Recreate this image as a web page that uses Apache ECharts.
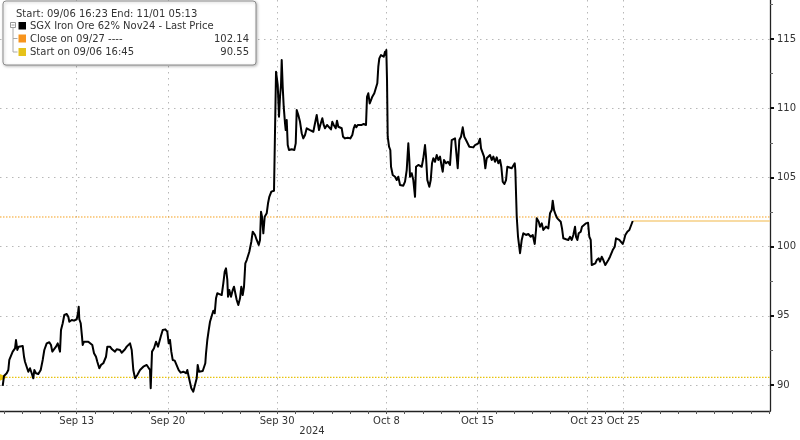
<!DOCTYPE html>
<html>
<head>
<meta charset="utf-8">
<script src="https://cdn.jsdelivr.net/npm/echarts@6/dist/echarts.min.js"></script>
<style>html,body{margin:0;padding:0;background:#fff}#c{width:800px;height:440px}</style>
</head>
<body>
<div id="c"></div>
<script>
// ---- data (time in trading days from 06 Sep 2024 open, price in USD/t) ----
const tradingDays = [
0.939,1.010,1.158,1.246,1.301,1.394,1.487,1.614,1.668,1.740,
1.817,1.926,2.036,2.108,2.162,2.256,2.344,2.437,2.530,2.618,
2.673,2.766,2.892,3.024,3.134,3.222,3.353,3.496,3.589,3.661,
3.754,3.864,3.957,4.045,4.083,4.138,4.232,4.319,4.451,4.539,
4.594,4.726,4.852,5.000,5.071,5.110,5.143,5.220,5.291,5.329,
5.401,5.510,5.637,5.730,5.856,5.950,6.059,6.131,6.240,6.334,
6.460,6.608,6.680,6.828,6.937,7.009,7.102,7.195,7.283,7.377,
7.470,7.558,7.651,7.744,7.832,7.925,8.019,8.107,8.200,
8.326,8.474,8.568,8.655,8.749,8.842,8.930,9.023,9.061,9.133,
9.243,9.352,9.462,9.534,9.610,9.720,9.863,9.973,10.049,10.121,
10.192,10.269,10.379,10.488,10.598,10.708,10.851,10.999,11.070,11.147,
11.218,11.290,11.400,11.509,11.586,11.641,11.712,11.806,11.916,11.987,
12.058,12.097,12.168,12.245,12.316,12.426,12.497,12.574,12.645,12.717,
12.827,12.958,13.046,13.123,13.194,13.266,13.304,13.375,13.469,13.562,
13.633,13.705,13.782,13.869,13.963,14.034,14.111,14.182,14.254,14.331,
14.402,14.473,14.583,14.660,14.786,14.879,14.989,15.060,15.115,15.170,
15.242,15.318,15.428,15.500,15.571,15.681,15.829,15.900,
15.939,16.032,16.103,16.158,16.213,16.251,16.306,16.361,16.433,16.471,
16.526,16.581,16.652,16.800,16.943,17.020,17.075,17.162,17.256,17.349,
17.437,17.530,17.624,17.711,17.805,17.898,17.986,18.079,18.172,18.227,
18.299,18.370,18.480,18.556,18.628,18.738,18.847,18.957,19.029,19.105,
19.215,19.286,19.358,19.452,19.545,19.616,19.726,19.874,20.017,20.126,
20.203,20.274,20.346,20.423,20.532,20.642,20.752,20.878,20.933,21.004,
21.081,21.153,21.224,21.334,21.427,21.498,21.553,21.608,21.702,21.773,
21.850,21.921,21.960,21.992,22.031,22.069,22.141,22.212,22.251,22.344,
22.470,22.563,22.651,22.745,22.838,22.925,23.019,23.112,23.200,23.255,
23.293,23.386,23.474,23.568,23.623,23.749,23.935,24.023,24.116,24.171,
24.243,24.352,24.430,24.501,24.572,24.665,24.759,24.846,24.940,25.033,
25.088,25.159,25.269,25.379,25.488,25.582,25.669,25.763,25.856,25.911,
25.999,26.092,26.186,26.273,26.367,26.460,26.548,26.641,26.767,26.861,
26.954,27.042,27.135,27.190,27.283,27.355,27.426,27.503,27.591,27.684,
27.777,27.865,27.958,28.052,28.140,28.233,28.304,28.381,28.469,28.562,
28.634,28.743,28.875,28.963,29.040,29.073,
29.150,29.221,29.331,29.424,29.512,29.660,29.786,29.918,30.028,30.137,
30.209,30.247,30.357,30.428,30.522,30.610,30.757,30.884,30.977,31.070,
31.125,31.197,31.290,31.378,31.487,31.564,31.635,31.707,31.855,31.981,
32.075,32.168,32.256,32.349,32.404,32.476,32.552,32.662,32.733,32.843,
32.953,33.063,33.134,33.211,33.266,33.354,33.463,33.540,33.650,33.721,
33.814,33.902,34.012,34.089,34.177,34.270,34.341,34.418,34.528,34.599,
34.671,34.781,34.857,34.967,35.039,35.110,35.220,35.330,35.439,35.516
];
const prices = [
89.93,90.65,90.85,91.08,91.81,91.68,92.41,92.65,93.25,92.53,
92.77,92.89,92.82,92.04,91.68,91.57,90.96,91.21,90.85,90.48,
91.08,90.85,90.79,91.08,91.81,92.53,93.01,93.09,92.89,92.41,
92.53,92.77,93.01,93.01,92.41,93.97,94.46,95.06,95.13,94.93,
94.57,94.70,94.65,94.75,95.18,95.66,94.75,94.46,93.49,92.89,
93.13,93.25,93.13,93.13,92.89,92.29,92.04,91.68,91.21,91.45,
91.57,92.04,92.77,92.77,92.58,92.65,92.41,92.58,92.48,92.53,
92.33,92.46,92.58,92.77,92.89,93.01,92.53,91.08,90.48,
90.72,91.08,91.01,91.32,91.32,91.45,91.37,91.08,89.76,92.41,
92.65,93.13,92.77,92.72,93.49,93.97,94.02,93.85,93.01,93.25,
92.41,91.81,91.76,91.68,91.08,90.89,90.96,90.85,91.08,90.60,
90.72,89.76,89.52,89.64,90.48,91.45,90.96,90.89,91.01,91.13,
91.57,92.29,93.25,93.97,94.57,95.06,95.37,95.18,96.26,96.63,
96.57,96.50,97.35,98.19,98.43,97.59,96.38,96.86,96.38,96.86,
97.10,96.63,96.14,95.78,96.26,97.10,96.50,97.10,98.79,99.03,
98.91,99.63,100.35,101.08,100.84,100.48,100.12,100.48,102.52,102.16,
100.96,102.16,102.41,103.13,103.60,103.97,104.04,104.16,
112.64,111.68,109.39,110.83,111.68,113.48,111.55,110.11,108.91,108.42,
109.15,107.34,106.98,107.03,106.98,107.46,109.87,109.51,109.02,108.19,
107.82,108.06,108.55,108.47,108.42,108.55,108.30,108.91,109.51,109.02,
108.42,108.79,109.27,108.79,108.55,108.79,108.66,108.47,109.02,108.79,
108.55,109.10,108.66,108.62,108.55,107.94,107.82,107.87,107.82,108.06,
108.55,108.79,108.62,108.79,108.71,108.79,108.86,108.79,110.83,111.08,
110.35,110.59,110.83,111.08,111.19,111.80,113.00,113.60,113.84,113.97,
113.72,114.08,113.84,114.20,112.04,107.94,107.22,106.98,105.77,105.17,
105.05,104.81,105.05,104.45,104.57,104.40,104.69,105.53,107.46,106.26,
105.05,105.30,104.81,103.60,105.77,105.90,105.77,106.38,107.34,106.50,
104.81,104.33,104.81,106.02,106.38,106.13,106.62,106.26,106.50,105.77,
105.41,106.26,106.02,106.13,105.90,107.70,107.58,107.82,107.70,105.66,
107.70,107.94,108.62,107.94,107.70,107.82,107.22,107.27,107.17,107.34,
107.22,107.46,107.80,107.10,107.22,106.50,105.66,106.38,106.50,106.62,
106.26,106.50,106.13,106.45,106.02,106.26,105.77,104.69,104.52,104.81,
105.77,105.66,105.66,105.77,106.02,105.53,
102.16,100.71,99.52,100.48,100.96,100.84,100.91,100.71,100.84,100.19,
101.20,102.04,101.80,101.44,101.68,101.20,101.44,101.32,102.41,102.64,
103.32,102.64,102.28,102.04,102.16,101.80,101.32,100.60,100.53,100.48,
100.71,100.48,100.84,101.44,100.71,100.48,100.96,101.08,101.44,101.56,
101.68,101.73,100.71,100.48,98.67,98.55,98.79,99.03,99.15,98.91,
99.27,99.03,98.67,98.55,99.03,99.27,99.15,99.75,99.99,100.60,
100.71,100.48,100.60,100.19,100.48,100.84,101.08,101.20,101.32,101.85
];
// reference levels
const closeLevel = 102.14;   // Close on 09/27
const startLevel = 90.55;    // Start on 09/06 16:45
// x-axis tick labels (trading-day index) and texts
const labelDays = [5, 10, 16, 22, 27, 33, 35];
const labelTexts = ['Sep 13', 'Sep 20', 'Sep 30', 'Oct 8', 'Oct 15', 'Oct 23', 'Oct 25'];
const dayTicks = [1,2,3,4,5,6,7,8,9,10,11,12,13,14,15,16,17,18,19,20,21,22,23,24,25,26,27,28,29,30,31,32,33,34,35,36,37,38,39,40,41,42,43];
// y-axis ticks
const yTicks = [90, 95, 100, 105, 110, 115];
const yMinorTicks = [92.5, 97.5, 102.5, 107.5, 112.5, 117.5];
// axis extents
const xMin = 0.79, xMax = 43.05;
const yMin = 88.12, yMax = 117.82;
// legend texts
const headerText = 'Start: 09/06 16:23 End: 11/01 05:13';
const seriesName = 'SGX Iron Ore 62% Nov24 - Last Price';
const closeName = 'Close on 09/27 ----';
const startName = 'Start on 09/06 16:45';

// ---- chart ----
const priceData = tradingDays.map((t, i) => [t, prices[i]]);
const lastT = tradingDays[tradingDays.length - 1];
const lastP = prices[prices.length - 1];

const FONT = 'DejaVu Sans';
const TXT = '#333';
const ORANGE = '#F5A01E';
const YELLOW = '#E8C30E';
const GRIDC = '#b8b8b8';

const chart = echarts.init(document.getElementById('c'), null, {renderer: 'canvas'});
const option = {
  animation: false,
  backgroundColor: '#fff',
  grid: {left: 0, right: 30, top: 0, bottom: 29, containLabel: false},
  xAxis: [{
    type: 'value', min: xMin, max: xMax, position: 'bottom',
    axisLine: {show: true, onZero: false, lineStyle: {color: '#222', width: 1.3}},
    axisTick: {show: true, customValues: dayTicks, length: 3, lineStyle: {color: '#555'}},
    axisLabel: {show: true, customValues: labelDays, color: TXT, fontFamily: FONT, fontSize: 10, margin: 5,
      formatter: v => { const i = labelDays.indexOf(v); return i >= 0 ? labelTexts[i] : ''; }},
    splitLine: {show: false}
  }, {
    type: 'value', min: xMin, max: xMax, position: 'bottom',
    axisLine: {show: false},
    axisTick: {show: false, customValues: labelDays},
    axisLabel: {show: false, customValues: labelDays},
    splitLine: {show: true, lineStyle: {color: GRIDC, width: 1, type: [1.5, 4.5]}}
  }],
  yAxis: [{
    type: 'value', min: yMin, max: yMax, position: 'right',
    axisLine: {show: true, onZero: false, lineStyle: {color: '#222', width: 1.3}},
    axisTick: {show: true, customValues: yTicks, length: 4, lineStyle: {color: '#111', width: 2}},
    axisLabel: {show: true, customValues: yTicks, color: TXT, fontFamily: FONT, fontSize: 10, margin: 7},
    splitLine: {show: true, lineStyle: {color: GRIDC, width: 1, type: [1.5, 4.5]}}
  }, {
    type: 'value', min: yMin, max: yMax, position: 'right',
    axisLine: {show: false},
    axisTick: {show: true, customValues: yMinorTicks, length: 3, lineStyle: {color: '#666'}},
    axisLabel: {show: false, customValues: yMinorTicks},
    splitLine: {show: false}
  }],
  series: [
    {
      name: 'start', type: 'line', xAxisIndex: 0, yAxisIndex: 0, symbol: 'none', silent: true, z: 2,
      data: [[xMin, startLevel], [xMax, startLevel]],
      lineStyle: {color: YELLOW, width: 1.4, type: [1.5, 1.5]}
    },
    {
      name: 'close', type: 'line', xAxisIndex: 0, yAxisIndex: 0, symbol: 'none', silent: true, z: 2,
      data: [[xMin, closeLevel], [xMax, closeLevel]],
      lineStyle: {color: ORANGE, width: 1, type: [1.5, 1.5]}
    },
    {
      name: 'last', type: 'line', xAxisIndex: 0, yAxisIndex: 0, symbol: 'none', silent: true, z: 2,
      data: [[lastT, lastP], [xMax, lastP]],
      lineStyle: {color: '#F6CF84', width: 1.5}
    },
    {
      name: seriesName, type: 'line', xAxisIndex: 0, yAxisIndex: 0, symbol: 'none', z: 5,
      data: priceData,
      lineStyle: {color: '#000', width: 2, join: 'round'},
      markPoint: {
        silent: true,
        symbol: 'triangle', symbolSize: [7, 8], symbolRotate: -90,
        itemStyle: {color: YELLOW},
        label: {show: false},
        data: [{coord: [tradingDays[0] + 0.04, startLevel]}]
      }
    }
  ],
  graphic: [
    {type: 'rect', z: 100, shape: {x: 3, y: 1, width: 253, height: 64, r: 3},
      style: {fill: '#fff', stroke: '#8c8c8c', lineWidth: 1, shadowBlur: 3, shadowOffsetX: 1, shadowOffsetY: 1, shadowColor: 'rgba(0,0,0,0.25)'}},
    {type: 'text', z: 101, x: 16, y: 14, style: {text: headerText, font: '10px "DejaVu Sans"', fill: TXT, verticalAlign: 'middle'}},
    {type: 'rect', z: 101, shape: {x: 10.5, y: 22.5, width: 5, height: 5}, style: {fill: '#fff', stroke: '#999', lineWidth: 1}},
    {type: 'line', z: 101, shape: {x1: 11.5, y1: 25, x2: 14.5, y2: 25}, style: {stroke: '#999', lineWidth: 1}},
    {type: 'line', z: 101, shape: {x1: 13, y1: 27.5, x2: 13, y2: 52}, style: {stroke: '#aaa', lineWidth: 1}},
    {type: 'line', z: 101, shape: {x1: 13, y1: 38.5, x2: 17.5, y2: 38.5}, style: {stroke: '#aaa', lineWidth: 1}},
    {type: 'line', z: 101, shape: {x1: 13, y1: 52, x2: 17.5, y2: 52}, style: {stroke: '#aaa', lineWidth: 1}},
    {type: 'rect', z: 101, shape: {x: 18.5, y: 22, width: 7.5, height: 7.5}, style: {fill: '#000'}},
    {type: 'text', z: 101, x: 30, y: 26, style: {text: seriesName, font: '10px "DejaVu Sans"', fill: TXT, verticalAlign: 'middle'}},
    {type: 'rect', z: 101, shape: {x: 18.5, y: 34.5, width: 7.5, height: 8}, style: {fill: '#F7941D'}},
    {type: 'text', z: 101, x: 30, y: 39, style: {text: closeName, font: '10px "DejaVu Sans"', fill: TXT, verticalAlign: 'middle'}},
    {type: 'text', z: 101, x: 249, y: 39, style: {text: closeLevel.toFixed(2), font: '10px "DejaVu Sans"', fill: TXT, align: 'right', verticalAlign: 'middle'}},
    {type: 'rect', z: 101, shape: {x: 18.5, y: 48, width: 7.5, height: 8}, style: {fill: '#E6C21A'}},
    {type: 'text', z: 101, x: 30, y: 52, style: {text: startName, font: '10px "DejaVu Sans"', fill: TXT, verticalAlign: 'middle'}},
    {type: 'text', z: 101, x: 249, y: 52, style: {text: startLevel.toFixed(2), font: '10px "DejaVu Sans"', fill: TXT, align: 'right', verticalAlign: 'middle'}},
    {type: 'text', z: 10, x: 312, y: 431, style: {text: '2024', font: '10px "DejaVu Sans"', fill: TXT, align: 'center', verticalAlign: 'middle'}}
  ]
};
chart.setOption(option);
</script>
</body>
</html>
